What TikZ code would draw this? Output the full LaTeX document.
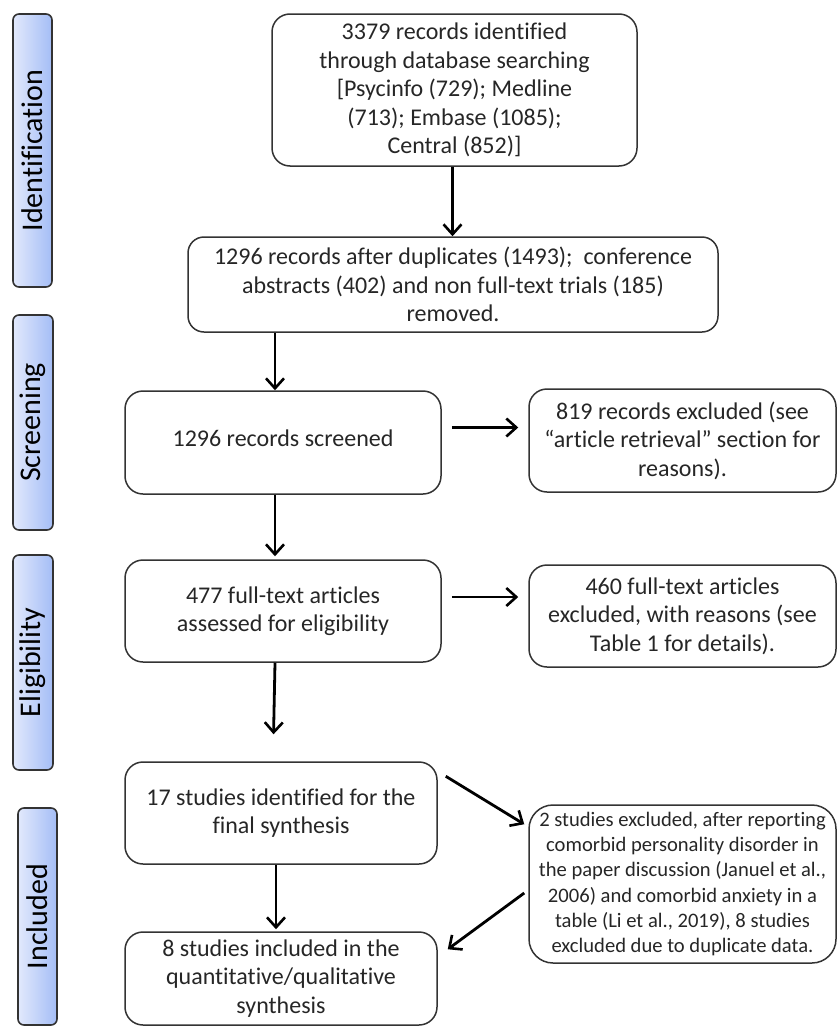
\documentclass[tikz,border=0pt]{standalone}
\usepackage{fontspec}
\setmainfont{Carlito}[Ligatures=NoCommon]
\usetikzlibrary{arrows.meta, calc}

\definecolor{phaselight}{HTML}{E2E9FC}
\definecolor{phasedark}{HTML}{A4BDF6}

\tikzset{
  box/.style={draw=black!80, line width=0.75pt, rounded corners=9pt, align=center,
    inner sep=2pt, text=black!85, font=\fontsize{12}{14.2}\selectfont},
  phase/.style={draw=black!80, line width=0.8pt, rounded corners=3pt,
    left color=phaselight, right color=phasedark, inner sep=0pt,
    font=\fontsize{15}{18}\selectfont},
  arr/.style={line width=1.4pt, -{Straight Barb[length=5pt,width=9pt,line width=1.3pt]}}
}

\begin{document}
\begin{tikzpicture}[x=0.5pt, y=-0.5pt]
\useasboundingbox (0,0) rectangle (838,1028);

% phases
\node[phase, minimum width=19.5pt, minimum height=136.5pt] (pid) at (32.5,150.5) {\rotatebox{90}{Identification}};
\node[phase, minimum width=20pt, minimum height=107.5pt] (pscr) at (33,422.5) {\rotatebox{90}{Screening}};
\node[phase, minimum width=20pt, minimum height=107.5pt] (pelig) at (33,662.5) {\rotatebox{90}{Eligibility}};
\node[phase, minimum width=19.5pt, minimum height=108.5pt] (pincl) at (37.5,916.5) {\rotatebox{90}{Included}};

% main column
\node[box, minimum width=182.5pt, minimum height=76pt] (rec) at (454.5,90)
  {3379 records identified\\ through database searching\\ {[}Psycinfo (729); Medline\\ (713); Embase (1085);\\ Central (852)]};
\node[box, minimum width=265pt, minimum height=47.5pt, rounded corners=8pt] (dup) at (453,284.5)
  {1296 records after duplicates (1493);~ conference\\ abstracts (402) and non full-text trials (185)\\ removed.};
\node[box, minimum width=158pt, minimum height=51.5pt] (scr) at (283,442.5)
  {\raisebox{4pt}{1296 records screened}};
\node[box, minimum width=158pt, minimum height=51pt] (elig) at (283,611)
  {477 full-text articles\\ assessed for eligibility};
\node[box, minimum width=156pt, minimum height=51pt] (incl) at (281,813)
  {17 studies identified for the\\ final synthesis};
\node[box, minimum width=156pt, minimum height=46.5pt] (final) at (281,978.5)
  {8 studies included in the\\ quantitative/qualitative\\ synthesis};

% exclusions
\node[box, minimum width=153.5pt, minimum height=51.5pt] (exa) at (682.5,440.5)
  {819 records excluded (see\\ “article retrieval” section for\\ reasons).};
\node[box, minimum width=153.5pt, minimum height=51pt] (exb) at (682.5,616)
  {460 full-text articles\\ excluded, with reasons (see\\ Table 1 for details).};
\node[box, minimum width=153.5pt, minimum height=79pt, rounded corners=12pt, inner sep=1pt,
  font=\fontsize{10.3}{12.6}\selectfont] (exc) at (682.5,884)
  {2 studies excluded, after reporting\\ comorbid personality disorder in\\ the paper discussion (Januel et al.,\\ 2006) and comorbid anxiety in a\\ table (Li et al., 2019), 8 studies\\ excluded due to duplicate data.};

% arrows
\draw[arr] ([xshift=-1pt]rec.south) -- ([xshift=-1pt]rec.south |- dup.north);
\draw[arr] ([xshift=-4pt]scr.north |- dup.south) -- ([xshift=-4pt]scr.north);
\draw[arr, shorten <=5pt, shorten >=5pt] ([yshift=7.5pt]scr.east) -- ([yshift=7.5pt]scr.east -| exa.west);
\draw[arr] ([xshift=-4pt]scr.south) -- ([xshift=-4pt,yshift=1.5pt]elig.north);
\draw[arr, shorten <=5pt, shorten >=5pt] ([yshift=7pt]elig.east) -- ([yshift=7pt]elig.east -| exb.west);
\draw[arr, shorten >=13.5pt] ([xshift=-4pt]elig.south) -- ([xshift=-4pt]incl.north);
\draw[arr] ($(incl.north east)+(8,15)$) -- ($(exc.north west)+(-4,20)$);
\draw[arr] ($(exc.west)+(-4,9)$) -- ($(final.north east)+(10,18)$);
\draw[arr] ([xshift=-2.5pt]incl.south) -- ([xshift=-2.5pt,yshift=1pt]final.north);
\end{tikzpicture}
\end{document}
